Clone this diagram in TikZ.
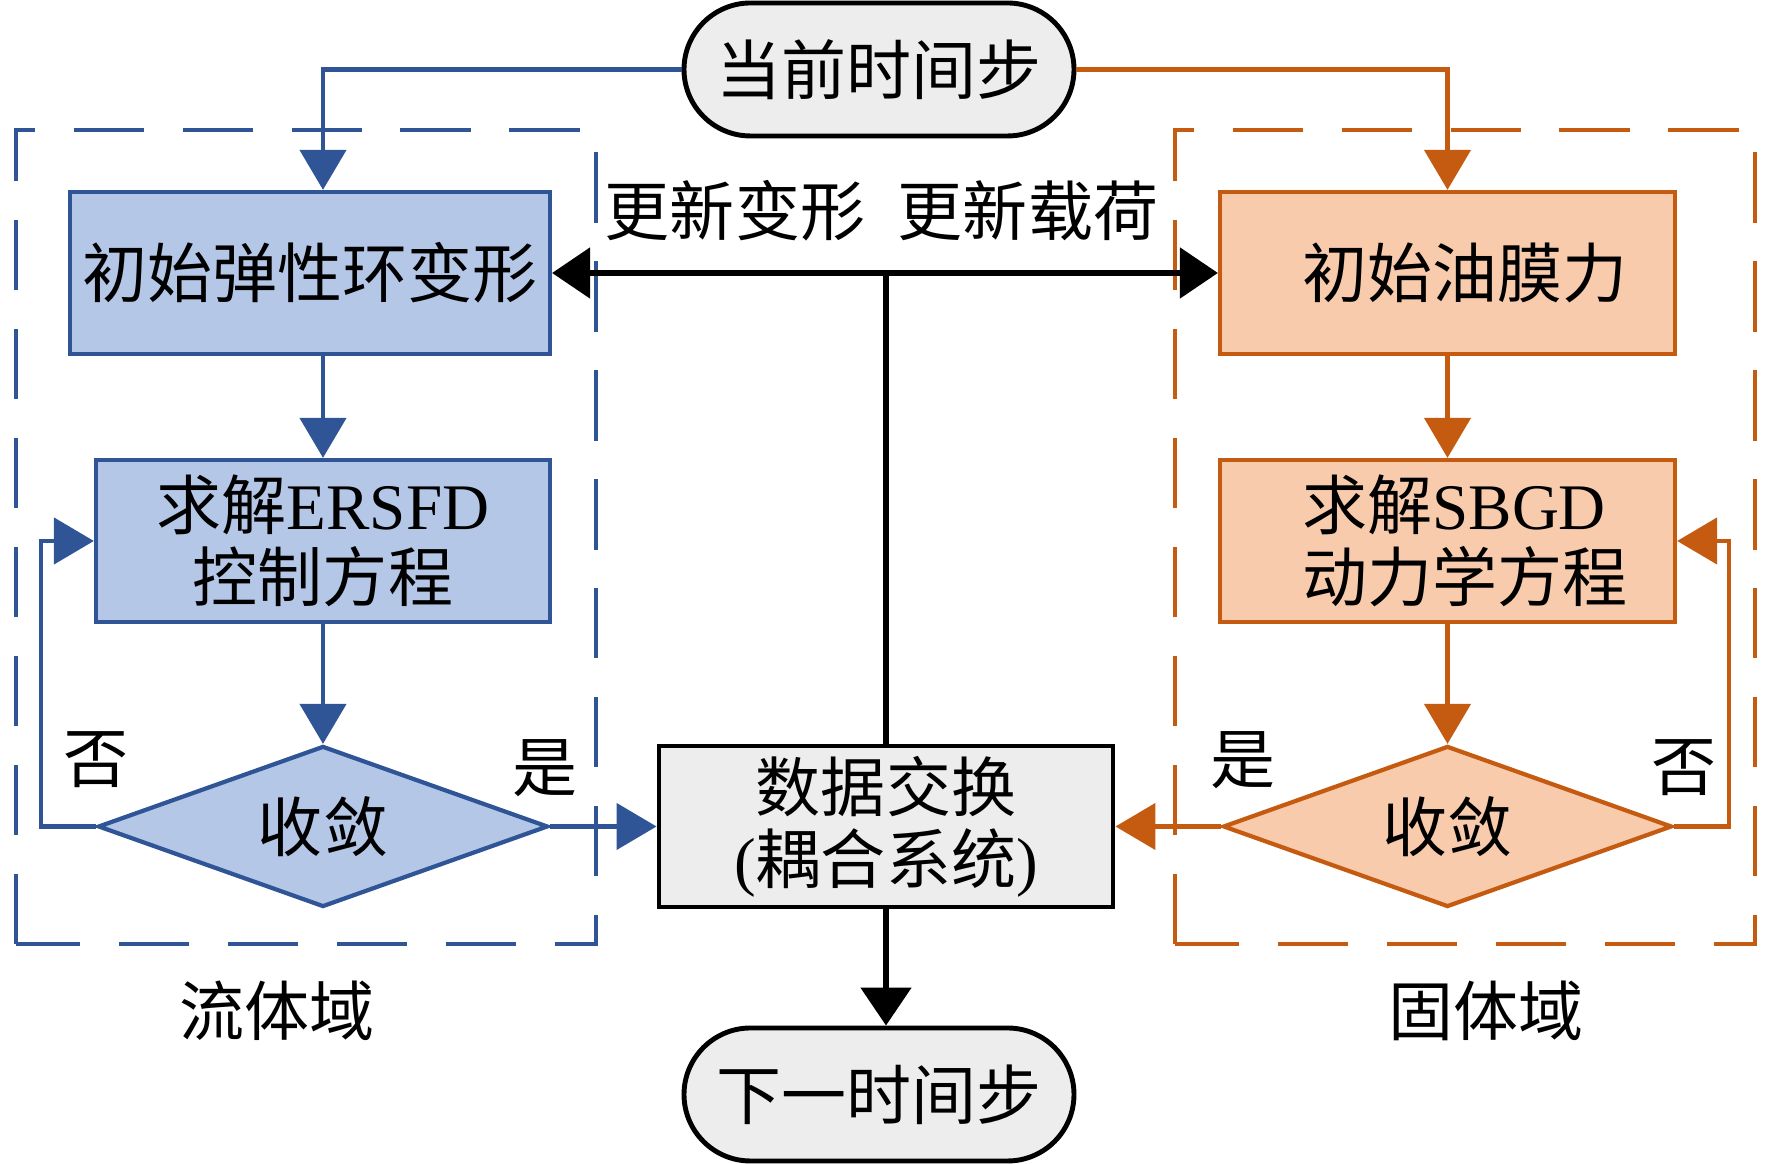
\documentclass[tikz,border=0pt]{standalone}
\usepackage{fontspec}
\setmainfont{Liberation Serif}
\newfontfamily\cjk{Noto Sans CJK SC}
\usetikzlibrary{arrows.meta,shapes.geometric}
\definecolor{fluidline}{HTML}{2F5597}
\definecolor{fluidfill}{HTML}{B4C7E7}
\definecolor{solidline}{HTML}{C55A11}
\definecolor{solidfill}{HTML}{F8CBAD}
\definecolor{termfill}{HTML}{EDEDED}
\tikzset{
  every node/.style={font=\fontsize{18.5pt}{20.5pt}\selectfont, inner sep=1pt},
  term/.style={draw=black, line width=1.4pt, fill=termfill, rounded corners=0.665cm,
    minimum width=3.9cm, minimum height=1.33cm},
  fluidbox/.style={draw=fluidline, line width=1.2pt, fill=fluidfill, align=center,
    minimum width=#1, minimum height=1.62cm},
  solidbox/.style={draw=solidline, line width=1.2pt, fill=solidfill, align=left,
    minimum width=4.55cm, minimum height=1.62cm},
  fluidjudge/.style={diamond, aspect=2.8, inner sep=0pt, draw=fluidline, line width=1.2pt,
    fill=fluidfill, minimum width=4.5cm, minimum height=1.61cm},
  solidjudge/.style={diamond, aspect=2.8, inner sep=0pt, draw=solidline, line width=1.2pt,
    fill=solidfill, minimum width=4.49cm, minimum height=1.61cm},
  exchbox/.style={draw=black, line width=1.4pt, fill=termfill, align=center,
    minimum width=4.54cm, minimum height=1.61cm},
  fluidarrow/.style={draw=fluidline, line width=1.3pt, -{Triangle[length=0.4cm,width=0.46cm]}},
  solidarrow/.style={draw=solidline, line width=1.3pt, -{Triangle[length=0.4cm,width=0.46cm]}},
  blackarrow/.style={draw=black, line width=1.5pt, -{Triangle[length=0.38cm,width=0.5cm]}},
  domainframe/.style={line width=1.2pt, dash pattern=on 20pt off 11pt}
}
\begin{document}
\begin{tikzpicture}
  \useasboundingbox (0,0) rectangle (17.72,11.64);
  \draw[domainframe, draw=fluidline] (0.16,2.20) rectangle (5.96,10.34);
  \draw[domainframe, draw=solidline] (11.75,2.20) rectangle (17.55,10.34);

  \node[term] (now) at (8.79,10.945) {\cjk 当前时间步};
  \node[term] (next) at (8.79,0.695) {\cjk 下一时间步};

  \node[fluidbox=4.8cm] (ringdef) at (3.10,8.91) {\cjk 初始弹性环变形};
  \node[fluidbox=4.54cm] (ersfd) at (3.23,6.23) {{\cjk 求解}ERSFD\\{\cjk 控制方程}};
  \node[fluidjudge] (fconv) at (3.23,3.375) {\cjk 收敛};

  \node[solidbox] (oilforce) at (14.475,8.91) {\hspace*{0.35cm}{\cjk 初始油膜力}};
  \node[solidbox] (sbgd) at (14.475,6.23) {\hspace*{0.35cm}{\cjk 求解}SBGD\\\hspace*{0.35cm}{\cjk 动力学方程}};
  \node[solidjudge] (sconv) at (14.475,3.375) {\cjk 收敛};

  \node[exchbox] (exch) at (8.86,3.375) {{\cjk 数据交换}\\({\cjk 耦合系统})};

  \draw[fluidarrow] (now.west) -| (ersfd.north |- ringdef.north);
  \draw[fluidarrow] (ringdef.south -| ersfd.north) -- (ersfd.north);
  \draw[fluidarrow] (ersfd.south) -- (fconv.north);
  \draw[fluidarrow] (fconv.west) -- ++(-0.55,0) |- (ersfd.west);
  \draw[fluidarrow] (fconv.east) -- (exch.west);

  \draw[solidarrow] (now.east) -| (oilforce.north);
  \draw[solidarrow] (oilforce.south) -- (sbgd.north);
  \draw[solidarrow] (sbgd.south) -- (sconv.north);
  \draw[solidarrow] (sconv.east) -- ++(0.55,0) |- (sbgd.east);
  \draw[solidarrow] (sconv.west) -- (exch.east);

  \draw[blackarrow, {Triangle[length=0.38cm,width=0.5cm]}-{Triangle[length=0.38cm,width=0.5cm]}]
    (ringdef.east) -- (oilforce.west);
  \draw[line width=1.5pt] (exch.north) -- (exch.north |- ringdef.east);
  \draw[blackarrow] (exch.south) -- (exch.south |- next.north);

  \node (updef) at (7.35,9.53) {\cjk 更新变形};
  \node (upload) at (10.28,9.53) {\cjk 更新载荷};
  \node (fno) at (0.96,4.04) {\cjk 否};
  \node (fyes) at (5.45,3.96) {\cjk 是};
  \node (syes) at (12.43,4.04) {\cjk 是};
  \node (sno) at (16.84,3.96) {\cjk 否};
  \node (fluidname) at (2.77,1.53) {\cjk 流体域};
  \node (solidname) at (14.86,1.53) {\cjk 固体域};
\end{tikzpicture}
\end{document}
